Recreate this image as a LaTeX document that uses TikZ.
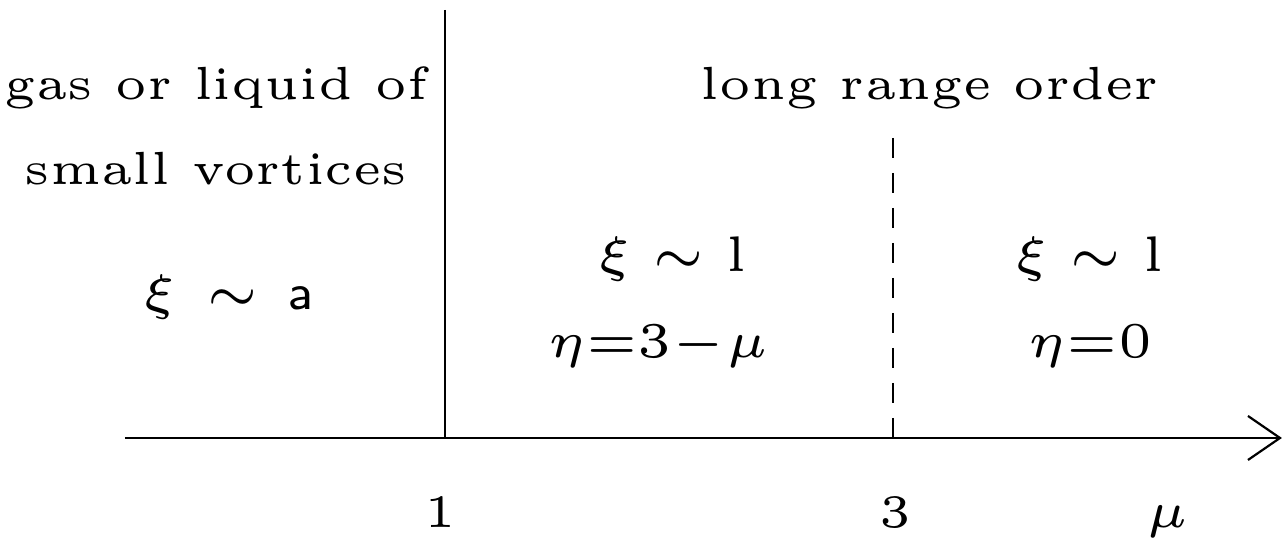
\documentclass[tikz,border=0pt]{standalone}
\begin{document}
\begin{tikzpicture}[x=0.1pt,y=-0.1pt,
  lbl/.style={inner sep=0pt,anchor=base,font=\fontsize{4.65}{6}\selectfont},
  ln/.style={line width=0.22pt}]
\useasboundingbox (0,0) rectangle (1284,538);
\coordinate (vtop) at (445,10);
\coordinate (vbot) at (445,438);
\coordinate (dtop) at (893,138);
\coordinate (dbot) at (893,438);
\coordinate (axL) at (125,438);
\coordinate (axR) at (1280,438);
\coordinate (arU) at (1248,416);
\coordinate (arD) at (1248,460);
\draw[ln] (vtop) -- (vbot);
\draw[ln,dash pattern=on 2pt off 1.5pt] (dtop) -- (dbot);
\draw[ln] (axL) -- (axR);
\draw[ln] (arU) -- (axR) -- (arD);
\node[lbl] (t1) at (216,100) {gas or liquid of};
\node[lbl] (t2) at (216,185) {small vortices};
\node[lbl] (t3) at (228,310) {$\xi\mskip2mu\sim\mskip2mu\mathsf{a}$};
\node[lbl] (t4) at (930,100) {long range order};
\node[lbl] (t5) at (672,272) {$\xi\sim\mathrm{l}$};
\node[lbl] (t6) at (658,358) {$\eta{=}3{-}\mu$};
\node[lbl] (t7) at (1089,272) {$\xi\sim\mathrm{l}$};
\node[lbl] (t8) at (1090,358) {$\eta{=}0$};
\node[lbl] (n1) at (440,528) {1};
\node[lbl] (n3) at (895,528) {3};
\node[lbl] (mu) at (1168,528) {$\mu$};
\end{tikzpicture}
\end{document}
